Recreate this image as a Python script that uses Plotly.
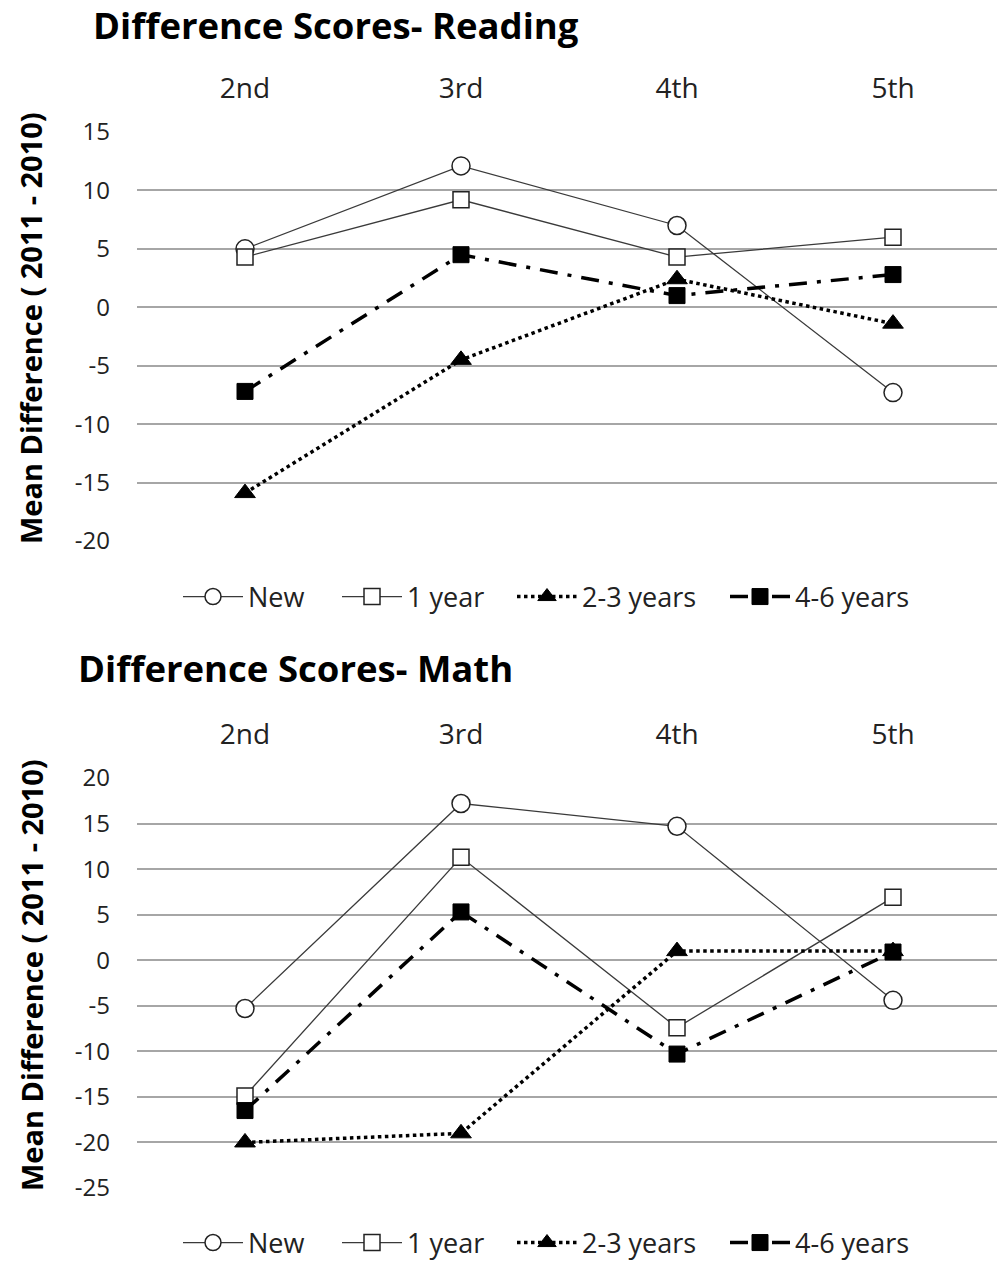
import plotly.graph_objects as go

grades = ["2nd", "3rd", "4th", "5th"]
series_names = ["New", "1 year", "2-3 years", "4-6 years"]

reading_new = [5.0, 12.1, 7.0, -7.3]
reading_1yr = [4.3, 9.2, 4.3, 6.0]
reading_23 = [-15.9, -4.5, 2.4, -1.4]
reading_46 = [-7.2, 4.5, 1.0, 2.8]

math_new = [-5.3, 17.2, 14.7, -4.4]
math_1yr = [-14.9, 11.3, -7.4, 6.9]
math_23 = [-20.0, -19.0, 1.0, 1.0]
math_46 = [-16.5, 5.3, -10.3, 0.9]

reading_ticks = [-20, -15, -10, -5, 0, 5, 10, 15]
math_ticks = [-25, -20, -15, -10, -5, 0, 5, 10, 15, 20]

FONT = "Open Sans, Lato, sans-serif"
W, H = 997, 1268

styles = [
    dict(line=dict(color="#3a3a3a", width=1.3), marker=dict(symbol="circle", size=18, color="white", line=dict(color="#222", width=1.5))),
    dict(line=dict(color="#3a3a3a", width=1.3), marker=dict(symbol="square", size=16, color="white", line=dict(color="#222", width=1.5))),
    dict(line=dict(color="black", width=3.5, dash="dot"), marker=dict(symbol="triangle-up", size=18, color="black", line=dict(color="black", width=1))),
    dict(line=dict(color="black", width=3.5, dash="18px,10px,4px,10px"), marker=dict(symbol="square", size=16, color="black", line=dict(color="black", width=1))),
]

def py(pix):
    return 1 - pix / H

# legend entry left positions (px) in the reference
legend_x_px = [183, 342, 517, 730]

fig = go.Figure()

for i, (vals, name, st) in enumerate(zip([reading_new, reading_1yr, reading_23, reading_46], series_names, styles)):
    lg = "legend" if i == 0 else f"legend{i + 1}"
    fig.add_trace(go.Scatter(x=grades, y=vals, name=name, mode="lines+markers",
                             line=st["line"], marker=st["marker"], xaxis="x", yaxis="y", legend=lg))
for i, (vals, name, st) in enumerate(zip([math_new, math_1yr, math_23, math_46], series_names, styles)):
    lg = f"legend{i + 5}"
    fig.add_trace(go.Scatter(x=grades, y=vals, name=name, mode="lines+markers",
                             line=st["line"], marker=st["marker"], xaxis="x2", yaxis="y2", legend=lg))

xdom = [137 / W, 1.0]
xcommon = dict(type="category", categoryorder="array", categoryarray=grades,
               range=[-0.5, -0.5 + (W - 137) / 216.0],
               side="top", showgrid=False, showline=False, zeroline=False, ticks="",
               tickfont=dict(family=FONT, size=28, color="#222"), ticklabelstandoff=27, domain=xdom)
ycommon = dict(showgrid=True, gridcolor="#a6a6a6", gridwidth=1.5, zeroline=False, showline=False,
               ticks="", tickfont=dict(family=FONT, size=24, color="#222"), ticklabelstandoff=26)

legend_font = dict(family=FONT, size=27, color="#222")
legends = {}
for row, ypx in enumerate([597, 1243]):
    for j, xpx in enumerate(legend_x_px):
        k = row * 4 + j
        key = "legend" if k == 0 else f"legend{k + 1}"
        legends[key] = dict(orientation="h", x=(xpx - 5) / W, xanchor="left", y=py(ypx), yanchor="middle",
                            font=legend_font, itemwidth=60, bgcolor="rgba(0,0,0,0)")

fig.update_layout(
    width=W, height=H,
    margin=dict(l=0, r=0, t=0, b=0, pad=0, autoexpand=False),
    paper_bgcolor="white", plot_bgcolor="white",
    showlegend=True,
    xaxis=dict(**xcommon, anchor="y"),
    yaxis=dict(**ycommon, range=[-20, 15], tickvals=reading_ticks, ticktext=[str(v) for v in reading_ticks],
               domain=[py(541), py(132)], anchor="x"),
    xaxis2=dict(**xcommon, anchor="y2"),
    yaxis2=dict(**ycommon, range=[-25, 20], tickvals=math_ticks, ticktext=[str(v) for v in math_ticks],
                domain=[py(1188), py(778)], anchor="x2"),
    **legends,
    annotations=[
        dict(text="<b>Difference Scores- Reading</b>", x=91 / W, y=py(25), xref="paper", yref="paper",
             xanchor="left", yanchor="middle", showarrow=False, font=dict(family=FONT, size=36.5, color="black")),
        dict(text="<b>Difference Scores- Math</b>", x=76 / W, y=py(668), xref="paper", yref="paper",
             xanchor="left", yanchor="middle", showarrow=False, font=dict(family=FONT, size=36.5, color="black")),
        dict(text="<b>Mean Difference ( 2011 - 2010)</b>", x=31 / W, y=py(328), xref="paper", yref="paper",
             xanchor="center", yanchor="middle", textangle=-90, showarrow=False,
             font=dict(family=FONT, size=29, color="black")),
        dict(text="<b>Mean Difference ( 2011 - 2010)</b>", x=31 / W, y=py(975), xref="paper", yref="paper",
             xanchor="center", yanchor="middle", textangle=-90, showarrow=False,
             font=dict(family=FONT, size=29, color="black")),
    ],
)

fig.write_html("out.html", config={"displayModeBar": False},
               post_script="document.body.style.margin='0';document.body.style.overflow='hidden';")
